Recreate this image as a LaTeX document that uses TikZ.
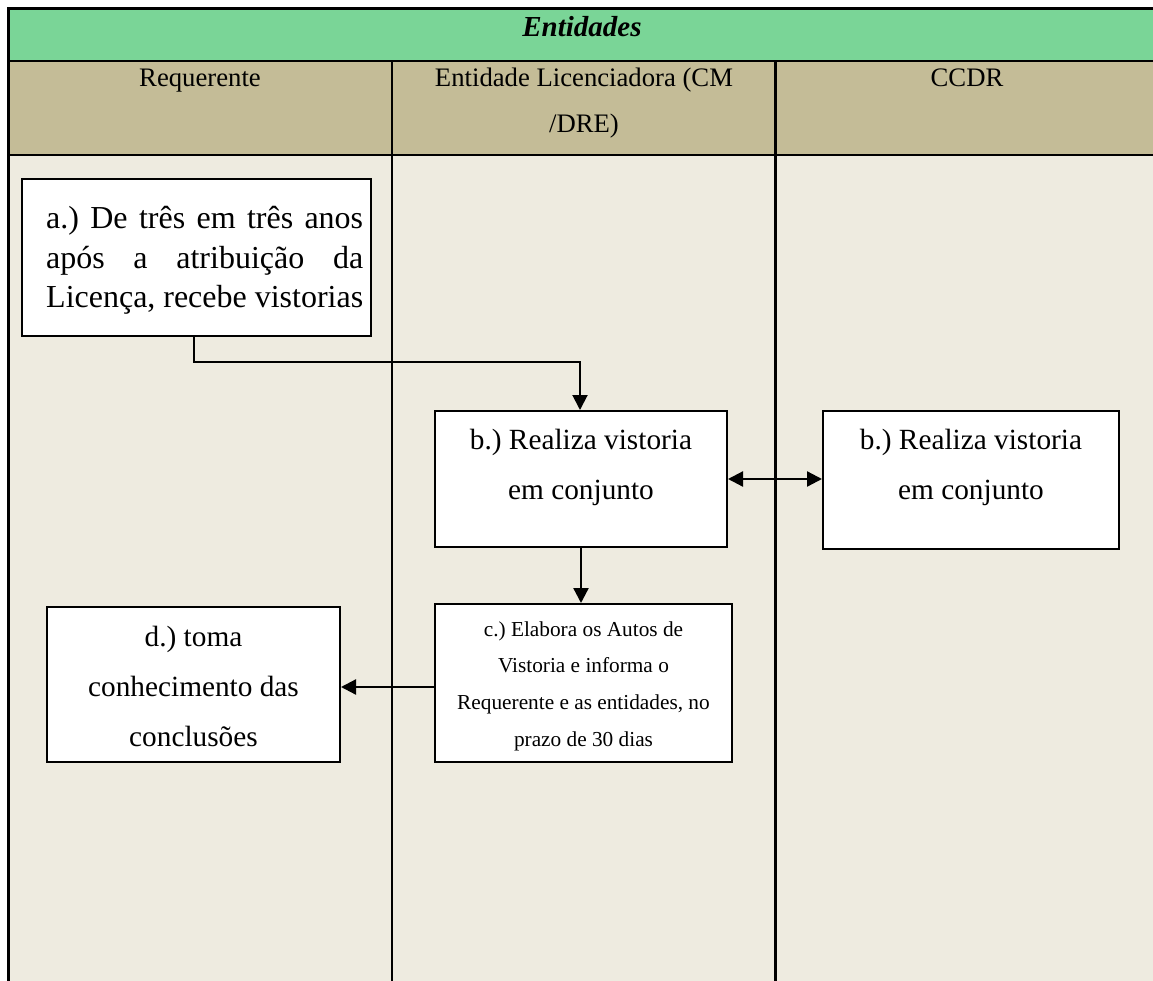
\documentclass[tikz,border=0pt]{standalone}
\usepackage{fontspec}
\setmainfont{Liberation Serif}
\usetikzlibrary{arrows.meta}
\definecolor{titlegreen}{RGB}{122,213,151}
\definecolor{headtan}{RGB}{196,188,151}
\definecolor{lanebg}{RGB}{238,235,224}
% a block of centred lines whose first baseline is the node's base
\newcommand\txtblock[4]{\parbox[t]{#1}{\centering\fontsize{#2}{#3}\selectfont #4}}
\frenchspacing
\begin{document}
\begin{tikzpicture}[x=1pt,y=-1pt,
  rule/.style={line width=2.6pt},
  stepbox/.style={draw=black, fill=white, line width=2pt, rectangle, inner sep=0pt},
  lbl/.style={inner sep=0pt, anchor=base},
  flow/.style={line width=2.3pt, -{Triangle[length=15pt,width=15pt]}},
  twoway/.style={line width=2.3pt, {Triangle[length=15pt,width=15pt]}-{Triangle[length=15pt,width=15pt]}},
]
\useasboundingbox (0,0) rectangle (1153,981);

% backgrounds
\fill[titlegreen] (8,9) rectangle (1153,61);
\fill[headtan] (8,61) rectangle (1153,155);
\fill[lanebg] (8,155) rectangle (1153,981);

% table rules
\draw[line width=3pt] (8,9) -- (1153,9);
\draw[line width=3pt] (8,7.5) -- (8,981);
\draw[rule] (8,61) -- (1153,61);
\draw[rule] (8,155) -- (1153,155);
\draw[rule] (392,61) -- (392,981);
\draw[rule] (775.7,61) -- (775.7,981);

% header texts
\node[lbl] (title) at (582,37) {\fontsize{29}{34}\selectfont\bfseries\itshape Entidades};
\node[lbl] (lane1) at (200,87) {\fontsize{26.7}{32}\selectfont Requerente};
\node[lbl] (lane2) at (584,87) {\txtblock{380pt}{26.7}{46}{Entidade Licenciadora (CM\\/DRE)}};
\node[lbl] (lane3) at (967,87) {\fontsize{26.7}{32}\selectfont CCDR};

% step boxes
\node[stepbox, minimum width=349pt, minimum height=157pt] (a) at (196.5,257.5) {};
\node[stepbox, minimum width=292pt, minimum height=136pt] (b) at (581,479) {};
\node[stepbox, minimum width=296pt, minimum height=138pt] (b2) at (971,480) {};
\node[stepbox, minimum width=297pt, minimum height=158pt] (c) at (583.5,683) {};
\node[stepbox, minimum width=293pt, minimum height=155pt] (d) at (193.5,684.5) {};

% step texts
\node[inner sep=0pt, anchor=base west] (at) at (46,229) {\parbox[t]{317pt}{\fontsize{32}{39.5}\selectfont
  \makebox[317pt][s]{a.) De três em três anos}\\
  \makebox[317pt][s]{após a atribuição da}\\
  \makebox[317pt][s]{Licença, recebe vistorias}}};
\node[lbl] (bt) at (581,449) {\txtblock{290pt}{29.3}{50.5}{b.) Realiza vistoria\\em conjunto}};
\node[lbl] (b2t) at (971,449) {\txtblock{290pt}{29.3}{50.5}{b.) Realiza vistoria\\em conjunto}};
\node[lbl] (ct) at (583.5,636) {\txtblock{295pt}{21.3}{36.7}{c.) Elabora os Autos de\\Vistoria e informa o\\Requerente e as entidades, no\\prazo de 30 dias}};
\node[lbl] (dt) at (193.5,646) {\txtblock{290pt}{29.3}{50}{d.) toma\\conhecimento das\\conclusões}};

% connectors
\draw[flow, line width=2pt] ([xshift=-2.5pt]a.south) -- ++(0,25) -| ([xshift=-1pt]b.north);
\draw[twoway] (b.east) -- (b.east -| b2.west);
\draw[flow] (b.south) -- (b.south |- c.north);
\draw[flow] ([yshift=-4pt]c.west) -- ([yshift=-4pt]c.west -| d.east);
\end{tikzpicture}
\end{document}
